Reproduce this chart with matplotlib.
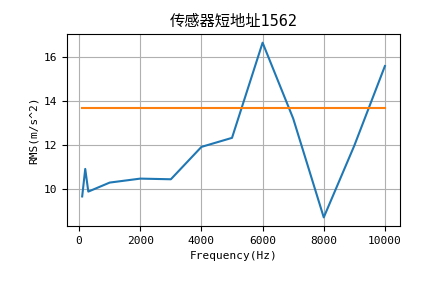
import matplotlib
matplotlib.use("Agg")
import matplotlib.pyplot as plt

plt.rcParams['font.family'] = ['DejaVu Sans Mono', 'Noto Sans CJK SC']
plt.rcParams['axes.unicode_minus'] = False

# data
freq = [100, 200, 300, 1000, 2000, 3000, 4000, 5000, 6000, 7000, 8000, 9000, 10000]
rms = [9.66, 10.91, 9.88, 10.29, 10.47, 10.44, 11.91, 12.32, 16.64, 13.2, 8.71, 11.97, 15.58]
threshold = 13.67

fig = plt.figure(figsize=(4.44, 2.83), dpi=100)
ax = fig.add_axes([0.151, 0.201, 0.750, 0.679])

ax.plot(freq, rms, color='#1f77b4', lw=1.5)
ax.plot([freq[0], freq[-1]], [threshold, threshold], color='#ff7f0e', lw=1.5)

ax.set_title('传感器短地址1562', fontsize=11)
ax.set_xlabel('Frequency(Hz)', fontsize=8)
ax.set_ylabel('RMS(m/s^2)', fontsize=8)
ax.set_xticks([0, 2000, 4000, 6000, 8000, 10000])
ax.set_yticks([10, 12, 14, 16])
ax.tick_params(labelsize=8)
ax.grid(True)

fig.savefig('out.png', dpi=100)
